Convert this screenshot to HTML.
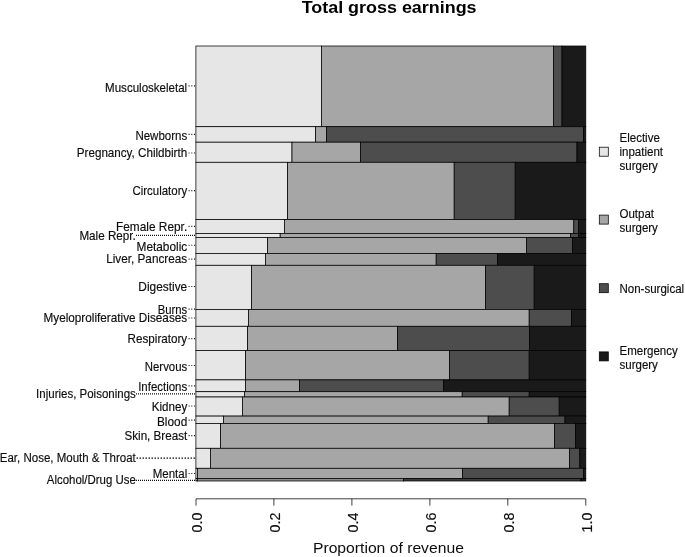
<!DOCTYPE html>
<html><head><meta charset="utf-8"><title>Total gross earnings</title>
<style>
html,body{margin:0;padding:0;background:#fff;}
svg{display:block;font-family:"Liberation Sans",Arial,sans-serif;fill:#0d0d0d;}
.lab{font-size:12px;text-anchor:end;stroke:#0d0d0d;stroke-width:0.15px;}
.leg{font-size:12px;stroke:#0d0d0d;stroke-width:0.15px;}
.tick{font-size:14.3px;text-anchor:middle;stroke:#0d0d0d;stroke-width:0.15px;}
.box{stroke:#000;stroke-width:0.75;}
.dot{stroke:#111;stroke-width:1.2;fill:none;}
.ax{stroke:#000;stroke-width:0.75;fill:none;}
</style></head><body>
<svg width="685" height="557" viewBox="0 0 685 557">
<rect x="0" y="0" width="685" height="557" fill="#fff"/>
<text transform="translate(389.1,12.9) scale(1.087,1)" text-anchor="middle" font-size="16.5px" font-weight="bold" fill="#000">Total gross earnings</text>
<rect class="box" x="195.90" y="46.00" width="125.50" height="80.70" fill="#e6e6e6"/>
<rect class="box" x="321.40" y="46.00" width="232.00" height="80.70" fill="#a6a6a6"/>
<rect class="box" x="553.40" y="46.00" width="8.60" height="80.70" fill="#4d4d4d"/>
<rect class="box" x="562.00" y="46.00" width="23.80" height="80.70" fill="#1a1a1a"/>
<rect class="box" x="195.90" y="126.70" width="119.70" height="15.50" fill="#e6e6e6"/>
<rect class="box" x="315.60" y="126.70" width="10.80" height="15.50" fill="#a6a6a6"/>
<rect class="box" x="326.40" y="126.70" width="257.00" height="15.50" fill="#4d4d4d"/>
<rect class="box" x="583.40" y="126.70" width="2.40" height="15.50" fill="#1a1a1a"/>
<rect class="box" x="195.90" y="142.20" width="96.10" height="20.10" fill="#e6e6e6"/>
<rect class="box" x="292.00" y="142.20" width="68.40" height="20.10" fill="#a6a6a6"/>
<rect class="box" x="360.40" y="142.20" width="216.60" height="20.10" fill="#4d4d4d"/>
<rect class="box" x="577.00" y="142.20" width="8.80" height="20.10" fill="#1a1a1a"/>
<rect class="box" x="195.90" y="162.30" width="91.70" height="57.30" fill="#e6e6e6"/>
<rect class="box" x="287.60" y="162.30" width="166.60" height="57.30" fill="#a6a6a6"/>
<rect class="box" x="454.20" y="162.30" width="61.00" height="57.30" fill="#4d4d4d"/>
<rect class="box" x="515.20" y="162.30" width="70.60" height="57.30" fill="#1a1a1a"/>
<rect class="box" x="195.90" y="219.60" width="88.50" height="13.80" fill="#e6e6e6"/>
<rect class="box" x="284.40" y="219.60" width="289.40" height="13.80" fill="#a6a6a6"/>
<rect class="box" x="573.80" y="219.60" width="4.60" height="13.80" fill="#4d4d4d"/>
<rect class="box" x="578.40" y="219.60" width="7.40" height="13.80" fill="#1a1a1a"/>
<rect class="box" x="195.90" y="233.40" width="84.30" height="4.00" fill="#e6e6e6"/>
<rect class="box" x="280.20" y="233.40" width="290.20" height="4.00" fill="#a6a6a6"/>
<rect class="box" x="570.40" y="233.40" width="8.00" height="4.00" fill="#4d4d4d"/>
<rect class="box" x="578.40" y="233.40" width="7.40" height="4.00" fill="#1a1a1a"/>
<rect class="box" x="195.90" y="237.40" width="71.70" height="16.00" fill="#e6e6e6"/>
<rect class="box" x="267.60" y="237.40" width="258.80" height="16.00" fill="#a6a6a6"/>
<rect class="box" x="526.40" y="237.40" width="46.20" height="16.00" fill="#4d4d4d"/>
<rect class="box" x="572.60" y="237.40" width="13.20" height="16.00" fill="#1a1a1a"/>
<rect class="box" x="195.90" y="253.40" width="69.50" height="11.90" fill="#e6e6e6"/>
<rect class="box" x="265.40" y="253.40" width="170.80" height="11.90" fill="#a6a6a6"/>
<rect class="box" x="436.20" y="253.40" width="61.20" height="11.90" fill="#4d4d4d"/>
<rect class="box" x="497.40" y="253.40" width="88.40" height="11.90" fill="#1a1a1a"/>
<rect class="box" x="195.90" y="265.30" width="55.70" height="44.10" fill="#e6e6e6"/>
<rect class="box" x="251.60" y="265.30" width="233.80" height="44.10" fill="#a6a6a6"/>
<rect class="box" x="485.40" y="265.30" width="48.80" height="44.10" fill="#4d4d4d"/>
<rect class="box" x="534.20" y="265.30" width="51.60" height="44.10" fill="#1a1a1a"/>
<rect class="box" x="195.90" y="309.40" width="52.50" height="16.90" fill="#e6e6e6"/>
<rect class="box" x="248.40" y="309.40" width="280.80" height="16.90" fill="#a6a6a6"/>
<rect class="box" x="529.20" y="309.40" width="42.20" height="16.90" fill="#4d4d4d"/>
<rect class="box" x="571.40" y="309.40" width="14.40" height="16.90" fill="#1a1a1a"/>
<rect class="box" x="195.90" y="326.30" width="51.70" height="24.20" fill="#e6e6e6"/>
<rect class="box" x="247.60" y="326.30" width="149.80" height="24.20" fill="#a6a6a6"/>
<rect class="box" x="397.40" y="326.30" width="132.20" height="24.20" fill="#4d4d4d"/>
<rect class="box" x="529.60" y="326.30" width="56.20" height="24.20" fill="#1a1a1a"/>
<rect class="box" x="195.90" y="350.50" width="49.70" height="29.40" fill="#e6e6e6"/>
<rect class="box" x="245.60" y="350.50" width="203.80" height="29.40" fill="#a6a6a6"/>
<rect class="box" x="449.40" y="350.50" width="79.80" height="29.40" fill="#4d4d4d"/>
<rect class="box" x="529.20" y="350.50" width="56.60" height="29.40" fill="#1a1a1a"/>
<rect class="box" x="195.90" y="379.90" width="49.50" height="11.80" fill="#e6e6e6"/>
<rect class="box" x="245.40" y="379.90" width="54.00" height="11.80" fill="#a6a6a6"/>
<rect class="box" x="299.40" y="379.90" width="144.00" height="11.80" fill="#4d4d4d"/>
<rect class="box" x="443.40" y="379.90" width="142.40" height="11.80" fill="#1a1a1a"/>
<rect class="box" x="195.90" y="391.70" width="48.50" height="5.30" fill="#e6e6e6"/>
<rect class="box" x="244.40" y="391.70" width="217.80" height="5.30" fill="#a6a6a6"/>
<rect class="box" x="462.20" y="391.70" width="67.00" height="5.30" fill="#4d4d4d"/>
<rect class="box" x="529.20" y="391.70" width="56.60" height="5.30" fill="#1a1a1a"/>
<rect class="box" x="195.90" y="397.00" width="46.50" height="19.10" fill="#e6e6e6"/>
<rect class="box" x="242.40" y="397.00" width="266.80" height="19.10" fill="#a6a6a6"/>
<rect class="box" x="509.20" y="397.00" width="50.00" height="19.10" fill="#4d4d4d"/>
<rect class="box" x="559.20" y="397.00" width="26.60" height="19.10" fill="#1a1a1a"/>
<rect class="box" x="195.90" y="416.10" width="27.50" height="7.30" fill="#e6e6e6"/>
<rect class="box" x="223.40" y="416.10" width="264.80" height="7.30" fill="#a6a6a6"/>
<rect class="box" x="488.20" y="416.10" width="76.80" height="7.30" fill="#4d4d4d"/>
<rect class="box" x="565.00" y="416.10" width="20.80" height="7.30" fill="#1a1a1a"/>
<rect class="box" x="195.90" y="423.40" width="24.70" height="24.90" fill="#e6e6e6"/>
<rect class="box" x="220.60" y="423.40" width="333.80" height="24.90" fill="#a6a6a6"/>
<rect class="box" x="554.40" y="423.40" width="21.00" height="24.90" fill="#4d4d4d"/>
<rect class="box" x="575.40" y="423.40" width="10.40" height="24.90" fill="#1a1a1a"/>
<rect class="box" x="195.90" y="448.30" width="14.50" height="20.00" fill="#e6e6e6"/>
<rect class="box" x="210.40" y="448.30" width="359.00" height="20.00" fill="#a6a6a6"/>
<rect class="box" x="569.40" y="448.30" width="10.40" height="20.00" fill="#4d4d4d"/>
<rect class="box" x="579.80" y="448.30" width="6.00" height="20.00" fill="#1a1a1a"/>
<rect class="box" x="195.90" y="468.30" width="1.60" height="10.10" fill="#e6e6e6"/>
<rect class="box" x="197.50" y="468.30" width="265.10" height="10.10" fill="#a6a6a6"/>
<rect class="box" x="462.60" y="468.30" width="120.80" height="10.10" fill="#4d4d4d"/>
<rect class="box" x="583.40" y="468.30" width="2.40" height="10.10" fill="#1a1a1a"/>
<rect class="box" x="195.90" y="478.40" width="1.60" height="2.60" fill="#cfcfcf"/>
<rect class="box" x="197.50" y="478.40" width="206.10" height="2.60" fill="#8c8c8c"/>
<rect class="box" x="403.60" y="478.40" width="177.40" height="2.60" fill="#3c3c3c"/>
<rect class="box" x="581.00" y="478.40" width="4.80" height="2.60" fill="#161616"/>
<text class="lab" transform="translate(187.2,92.0) scale(0.963,1)">Musculoskeletal</text>
<line class="dot" stroke-dasharray="1 1.7" x1="195" y1="85.80" x2="187.0" y2="85.80"/>
<text class="lab" transform="translate(187.2,139.8) scale(0.96,1)">Newborns</text>
<line class="dot" stroke-dasharray="1 1.7" x1="195" y1="134.40" x2="187.0" y2="134.40"/>
<text class="lab" transform="translate(187.2,157.0) scale(0.971,1)">Pregnancy, Childbirth</text>
<line class="dot" stroke-dasharray="1 1.7" x1="195" y1="153.00" x2="187.0" y2="153.00"/>
<text class="lab" transform="translate(187.2,195.3) scale(0.955,1)">Circulatory</text>
<line class="dot" stroke-dasharray="1 1.7" x1="195" y1="190.70" x2="187.0" y2="190.70"/>
<text class="lab" transform="translate(187.2,230.8) scale(0.989,1)">Female Repr.</text>
<line class="dot" stroke-dasharray="1 1.7" x1="195" y1="226.45" x2="187.0" y2="226.45"/>
<text class="lab" transform="translate(135.8,240.0) scale(0.973,1)">Male Repr.</text>
<line class="dot" stroke-dasharray="1 1" x1="195" y1="235.40" x2="135.6" y2="235.40"/>
<text class="lab" transform="translate(187.2,250.8) scale(0.988,1)">Metabolic</text>
<line class="dot" stroke-dasharray="1 1.7" x1="195" y1="245.25" x2="187.0" y2="245.25"/>
<text class="lab" transform="translate(187.2,263.4) scale(0.98,1)">Liver, Pancreas</text>
<line class="dot" stroke-dasharray="1 1.7" x1="195" y1="259.10" x2="187.0" y2="259.10"/>
<text class="lab" transform="translate(187.2,291.0) scale(0.99,1)">Digestive</text>
<line class="dot" stroke-dasharray="1 1.7" x1="195" y1="286.50" x2="187.0" y2="286.50"/>
<text class="lab" transform="translate(187.2,313.7) scale(0.94,1)">Burns</text>
<line class="dot" stroke-dasharray="1 1.7" x1="195" y1="309.20" x2="187.0" y2="309.20"/>
<text class="lab" transform="translate(187.2,321.9) scale(0.98,1)">Myeloproliferative Diseases</text>
<line class="dot" stroke-dasharray="1 1.7" x1="195" y1="318.00" x2="187.0" y2="318.00"/>
<text class="lab" transform="translate(187.2,343.0) scale(0.972,1)">Respiratory</text>
<line class="dot" stroke-dasharray="1 1.7" x1="195" y1="338.70" x2="187.0" y2="338.70"/>
<text class="lab" transform="translate(187.2,370.8) scale(0.95,1)">Nervous</text>
<line class="dot" stroke-dasharray="1 1.7" x1="195" y1="365.50" x2="187.0" y2="365.50"/>
<text class="lab" transform="translate(187.2,390.8) scale(0.956,1)">Infections</text>
<line class="dot" stroke-dasharray="1 1.7" x1="195" y1="385.80" x2="187.0" y2="385.80"/>
<text class="lab" transform="translate(135.8,398.2) scale(0.958,1)">Injuries, Poisonings</text>
<line class="dot" stroke-dasharray="1 1" x1="195" y1="393.80" x2="135.6" y2="393.80"/>
<text class="lab" transform="translate(187.2,410.7) scale(0.97,1)">Kidney</text>
<line class="dot" stroke-dasharray="1 1.7" x1="195" y1="406.00" x2="187.0" y2="406.00"/>
<text class="lab" transform="translate(187.2,425.6) scale(0.985,1)">Blood</text>
<line class="dot" stroke-dasharray="1 1.7" x1="195" y1="420.20" x2="187.0" y2="420.20"/>
<text class="lab" transform="translate(187.2,439.9) scale(0.97,1)">Skin, Breast</text>
<line class="dot" stroke-dasharray="1 1.7" x1="195" y1="435.60" x2="187.0" y2="435.60"/>
<text class="lab" transform="translate(135.8,461.7) scale(0.96,1)">Ear, Nose, Mouth &amp; Throat</text>
<line class="dot" stroke-dasharray="1.5 1.5" x1="195" y1="458.10" x2="135.6" y2="458.10"/>
<text class="lab" transform="translate(187.2,478.1) scale(0.96,1)">Mental</text>
<line class="dot" stroke-dasharray="1 1.7" x1="195" y1="473.50" x2="187.0" y2="473.50"/>
<text class="lab" transform="translate(135.8,484.3) scale(0.953,1)">Alcohol/Drug Use</text>
<line class="dot" stroke-dasharray="1 1" x1="195" y1="480.30" x2="135.6" y2="480.30"/>
<path class="ax" d="M196 498.8 H585.75"/>
<path class="ax" d="M196.0 498.8 V505.6"/>
<text class="tick" transform="translate(202.0,522.5) rotate(-90)">0.0</text>
<path class="ax" d="M273.9 498.8 V505.6"/>
<text class="tick" transform="translate(279.9,522.5) rotate(-90)">0.2</text>
<path class="ax" d="M351.9 498.8 V505.6"/>
<text class="tick" transform="translate(357.9,522.5) rotate(-90)">0.4</text>
<path class="ax" d="M429.9 498.8 V505.6"/>
<text class="tick" transform="translate(435.9,522.5) rotate(-90)">0.6</text>
<path class="ax" d="M507.8 498.8 V505.6"/>
<text class="tick" transform="translate(513.8,522.5) rotate(-90)">0.8</text>
<path class="ax" d="M585.8 498.8 V505.6"/>
<text class="tick" transform="translate(591.8,522.5) rotate(-90)">1.0</text>
<text transform="translate(388.4,553.3) scale(1.047,1)" text-anchor="middle" font-size="15px">Proportion of revenue</text>
<rect class="box" x="599.3" y="147.2" width="9" height="9" fill="#e6e6e6"/>
<text class="leg" transform="translate(619.5,142.2) scale(0.96,1)">Elective</text>
<text class="leg" transform="translate(619.5,156.3) scale(0.96,1)">inpatient</text>
<text class="leg" transform="translate(619.5,170.4) scale(0.96,1)">surgery</text>
<rect class="box" x="599.3" y="215.1" width="9" height="9" fill="#a6a6a6"/>
<text class="leg" transform="translate(619.5,218.2) scale(0.96,1)">Outpat</text>
<text class="leg" transform="translate(619.5,232.3) scale(0.96,1)">surgery</text>
<rect class="box" x="599.3" y="283.7" width="9" height="9" fill="#4d4d4d"/>
<text class="leg" transform="translate(619.5,292.9) scale(0.96,1)">Non-surgical</text>
<rect class="box" x="599.3" y="351.9" width="9" height="9" fill="#1a1a1a"/>
<text class="leg" transform="translate(619.5,354.5) scale(0.96,1)">Emergency</text>
<text class="leg" transform="translate(619.5,368.6) scale(0.96,1)">surgery</text>
</svg>
</body></html>
